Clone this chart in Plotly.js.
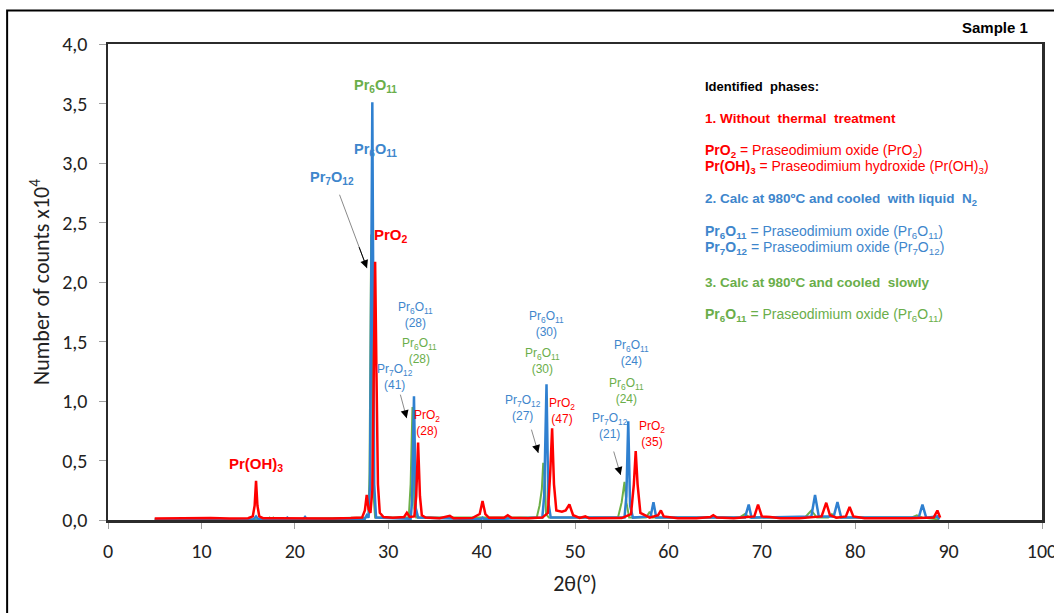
<!DOCTYPE html>
<html>
<head>
<meta charset="utf-8">
<script src="https://cdn.plot.ly/plotly-3.0.1.min.js"></script>
<style>html,body{margin:0;padding:0;background:#fff;}#chart{width:1054px;height:613px;}</style>
</head>
<body>
<div id="chart"></div>
<script>
// ---- Data (2θ in degrees, counts in units of 10^4) ----
const redX = [5,7,9,11,13,15,15.5,15.7,15.85,16.0,16.2,16.6,18,20,22,24,26,27.2,27.5,27.7,27.9,28.1,28.3,28.45,28.6,28.75,28.9,29.1,29.5,30.5,31.7,32.0,32.3,32.8,33.0,33.2,33.4,33.6,34,35.5,36.6,37,39,39.8,40.1,40.4,40.8,42.4,42.8,43.2,45,46.5,47.1,47.35,47.55,47.75,48.0,48.6,49.0,49.4,49.8,50.5,51.1,51.5,53,55,56.0,56.3,56.5,56.7,57.0,58.0,58.9,59.2,59.5,61,63,64.5,64.8,65.2,67,69.2,69.6,70.0,70.9,72,74,76.4,76.9,77.3,78,79.0,79.4,79.8,81,84,86,88.4,88.8,89.1];
const redY = [0.012,0.015,0.012,0.016,0.013,0.015,0.03,0.12,0.33,0.12,0.03,0.015,0.014,0.012,0.015,0.013,0.016,0.02,0.08,0.21,0.09,0.06,0.25,1.2,2.17,1.2,0.3,0.06,0.025,0.018,0.025,0.06,0.025,0.03,0.2,0.65,0.2,0.04,0.02,0.015,0.035,0.015,0.016,0.05,0.16,0.05,0.018,0.018,0.04,0.018,0.015,0.02,0.06,0.4,0.77,0.3,0.08,0.07,0.08,0.13,0.04,0.018,0.03,0.015,0.014,0.016,0.05,0.3,0.58,0.3,0.06,0.02,0.04,0.08,0.03,0.015,0.014,0.025,0.04,0.02,0.014,0.03,0.13,0.03,0.025,0.014,0.015,0.03,0.145,0.04,0.02,0.03,0.11,0.03,0.015,0.014,0.015,0.02,0.08,0.02];

const blueX = [5,10,15.6,15.85,16.1,19.0,19.2,19.4,20.9,21.1,21.3,27.5,27.7,27.9,28.05,28.3,28.5,28.7,32.4,32.55,32.76,32.95,33.2,39.9,40.1,40.3,46.5,46.7,46.95,47.15,47.4,55.3,55.5,55.7,55.9,56.2,58.1,58.4,58.7,68.2,68.6,68.9,75.3,75.7,76.1,77.7,78.1,78.5,86.8,87.2,87.6,88.8,89.0];
const blueY = [0.005,0.006,0.006,0.03,0.006,0.006,0.02,0.006,0.006,0.025,0.006,0.01,0.04,0.02,0.3,3.51,0.3,0.02,0.01,0.15,1.04,0.1,0.02,0.006,0.02,0.006,0.02,0.2,1.14,0.15,0.02,0.02,0.2,0.83,0.12,0.02,0.03,0.15,0.02,0.02,0.13,0.02,0.03,0.21,0.03,0.03,0.15,0.02,0.02,0.13,0.02,0.03,0.005];

const greenX = [5,10,17.1,17.3,17.5,17.7,17.9,27.6,27.9,28.0,28.18,28.35,28.6,32.2,32.4,32.6,32.8,33.0,45.9,46.2,46.45,46.6,46.75,46.9,47.2,54.6,55.0,55.3,55.5,55.8,57.6,58.0,58.3,67.6,68.2,68.7,74.6,75.3,75.9,77.1,77.5,77.9,86.0,86.6,87.2,89.0];
const greenY = [0.004,0.005,0.005,0.02,0.005,0.02,0.005,0.02,0.05,0.4,2.4,0.3,0.02,0.02,0.3,0.95,0.1,0.02,0.02,0.12,0.26,0.48,0.4,0.05,0.02,0.02,0.15,0.32,0.15,0.02,0.02,0.07,0.02,0.02,0.05,0.02,0.02,0.08,0.02,0.02,0.05,0.02,0.02,0.04,0.02,0.005];

const xTicks = [0,10,20,30,40,50,60,70,80,90,100];
const yTicks = [0,0.5,1,1.5,2,2.5,3,3.5,4];

const RED = '#FF0000', BLUE = '#2F80D0', GREEN = '#6DAF47';
const BLUE_T = '#3E86CC', GREEN_T = '#6AAE4A';

const traces = [
  {x: greenX, y: greenY, type: 'scatter', mode: 'lines', line: {color: GREEN, width: 2}, name: 'cooled slowly'},
  {x: blueX, y: blueY, type: 'scatter', mode: 'lines', line: {color: BLUE, width: 2.5}, name: 'liquid N2'},
  {x: redX, y: redY, type: 'scatter', mode: 'lines', line: {color: RED, width: 2.5}, name: 'no treatment'}
];

const F = 'Liberation Sans, Arial, sans-serif';
function lbl(x, y, text, color, size, bold) {
  return {x: x, y: y, xref: 'x', yref: 'y', text: bold ? '<b>' + text + '</b>' : text,
    showarrow: false, font: {family: F, size: size, color: color}, xanchor: 'center', yanchor: 'middle'};
}
function leg(y, text, color, size) {
  return {x: 63.7, y: y, xref: 'x', yref: 'y', text: text, showarrow: false,
    font: {family: F, size: size, color: color}, xanchor: 'left', yanchor: 'middle', align: 'left'};
}
function arrowPair(hx, hy, tx, ty) {
  const mx = hx + (tx - hx) * 0.3, my = hy + (ty - hy) * 0.3;
  return [
    {x: hx, y: hy, ax: tx, ay: ty, xref: 'x', yref: 'y', axref: 'x', ayref: 'y', text: '',
      showarrow: true, arrowhead: 0, arrowwidth: 1, arrowcolor: '#8a8a8a', standoff: 0},
    {x: hx, y: hy, ax: mx, ay: my, xref: 'x', yref: 'y', axref: 'x', ayref: 'y', text: '',
      showarrow: true, arrowhead: 2, arrowsize: 1.6, arrowwidth: 1, arrowcolor: '#000', standoff: 0}
  ];
}

const P6 = 'Pr<sub>6</sub>O<sub>11</sub>', P7 = 'Pr<sub>7</sub>O<sub>12</sub>', PO = 'PrO<sub>2</sub>', POH = 'Pr(OH)<sub>3</sub>';

const annotations = [
  lbl(15.85, 0.47, POH, RED, 15, true),
  lbl(28.59, 3.65, P6, GREEN_T, 14.5, true),
  lbl(28.59, 3.11, P6, BLUE_T, 14.5, true),
  lbl(23.98, 2.87, P7, BLUE_T, 14.5, true),
  lbl(30.3, 2.39, PO, RED, 15, true),
  lbl(32.87, 1.725, P6 + '<br>(28)', BLUE_T, 12, false),
  lbl(33.4, 1.423, P6 + '<br>(28)', GREEN_T, 12, false),
  lbl(30.73, 1.20, P7 + '<br>(41)', BLUE_T, 12, false),
  lbl(34.12, 0.819, PO + '<br>(28)', RED, 12, false),
  lbl(46.97, 1.651, P6 + '<br>(30)', BLUE_T, 12, false),
  lbl(46.57, 1.339, P6 + '<br>(30)', GREEN_T, 12, false),
  lbl(44.43, 0.945, P7 + '<br>(27)', BLUE_T, 12, false),
  lbl(48.58, 0.919, PO + '<br>(47)', RED, 12, false),
  lbl(56.07, 1.404, P6 + '<br>(24)', BLUE_T, 12, false),
  lbl(55.53, 1.087, P6 + '<br>(24)', GREEN_T, 12, false),
  lbl(53.75, 0.793, P7 + '<br>(21)', BLUE_T, 12, false),
  lbl(58.21, 0.72, PO + '<br>(35)', RED, 12, false),
  leg(3.644, '<b>Identified  phases:</b>', '#000', 13),
  leg(3.375, '<b>1. Without  thermal  treatment</b>', RED, 13.5),
  leg(3.101, '<b>' + PO + '</b> = Praseodimium oxide (' + PO + ')', RED, 14),
  leg(2.964, '<b>' + POH + '</b> = Praseodimium hydroxide (' + POH + ')', RED, 14),
  leg(2.695, '<b>2. Calc at 980ºC and cooled  with liquid  N<sub>2</sub></b>', BLUE_T, 13.5),
  leg(2.421, '<b>' + P6 + '</b> = Praseodimium oxide (' + P6 + ')', BLUE_T, 14),
  leg(2.284, '<b>' + P7 + '</b> = Praseodimium oxide (' + P7 + ')', BLUE_T, 14),
  leg(1.992, '<b>3. Calc at 980ºC and cooled  slowly</b>', GREEN_T, 13.5),
  leg(1.721, '<b>' + P6 + '</b> = Praseodimium oxide (' + P6 + ')', GREEN_T, 14),
  {x: 0.95, y: 1.0346, xref: 'paper', yref: 'paper', text: '<b>Sample 1</b>', showarrow: false,
    font: {family: F, size: 15, color: '#000'}, xanchor: 'center', yanchor: 'middle'}
].concat(
  arrowPair(27.73, 2.116, 24.73, 2.746),
  arrowPair(31.98, 0.856, 31.26, 1.066),
  arrowPair(46.07, 0.563, 45.29, 0.772),
  arrowPair(54.89, 0.378, 54.10, 0.588)
);

const AXF = 'Carlito, Lato, sans-serif';
const layout = {
  width: 1054, height: 613,
  margin: {l: 108, r: 12, t: 43.5, b: 93, pad: 0},
  paper_bgcolor: '#fff', plot_bgcolor: '#fff',
  showlegend: false,
  separators: ', ',
  xaxis: {
    range: [0, 100], tickvals: xTicks, ticktext: xTicks.map(String),
    showgrid: false, zeroline: false,
    showline: true, mirror: true, linecolor: '#2b2b2b', linewidth: 2.5,
    ticks: 'outside', ticklen: 6, tickcolor: '#a0a0a0', tickwidth: 1,
    ticklabelstandoff: 5, ticklabeloverflow: 'allow',
    tickfont: {family: AXF, size: 20, color: '#222'},
    title: {text: '2θ(°)', font: {family: AXF, size: 22, color: '#222'}, standoff: 14}
  },
  yaxis: {
    range: [0, 4], tickvals: yTicks, tickformat: '.1f',
    showgrid: false, zeroline: false,
    showline: true, mirror: true, linecolor: '#2b2b2b', linewidth: 2.5,
    ticks: 'outside', ticklen: 7, tickcolor: '#a0a0a0', tickwidth: 1,
    ticklabelstandoff: 7,
    tickfont: {family: AXF, size: 20, color: '#222'},
    title: {text: 'Number of counts x10<sup>4</sup>', font: {family: AXF, size: 22, color: '#222'}, standoff: 7}
  },
  annotations: annotations,
  shapes: [
    {type: 'rect', xref: 'paper', yref: 'paper', x0: -0.108, x1: 1.3, y0: -0.5, y1: 1.0703,
      line: {color: '#000', width: 2}, fillcolor: 'rgba(0,0,0,0)', layer: 'below'}
  ]
};

Plotly.newPlot('chart', traces, layout, {displayModeBar: false, staticPlot: true});
</script>
</body>
</html>
